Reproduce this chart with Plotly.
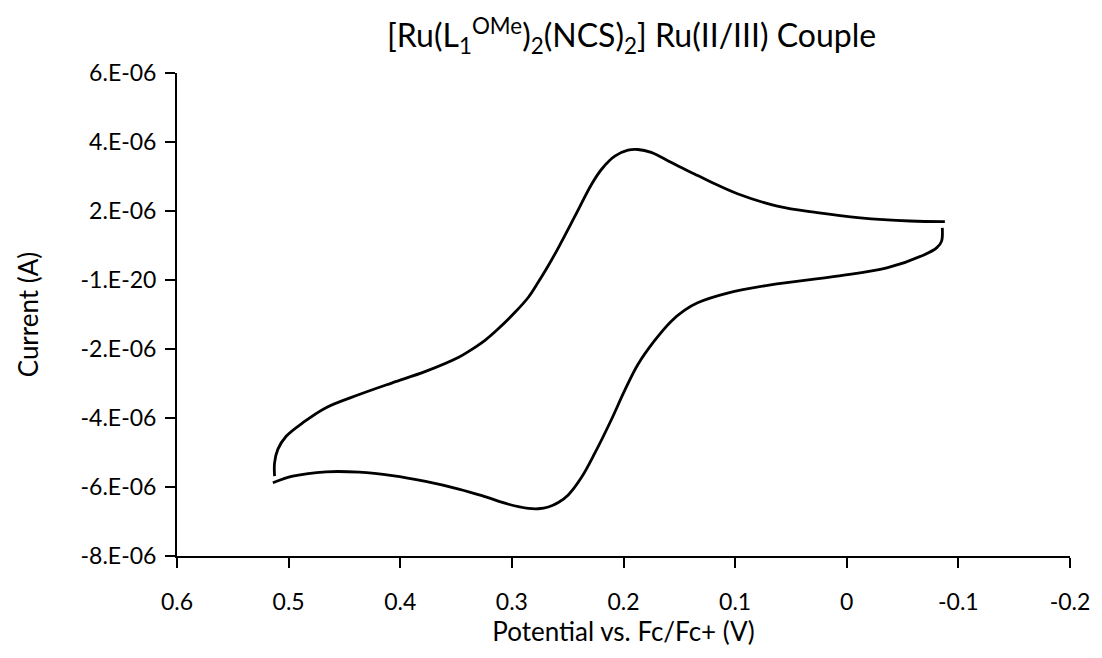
import plotly.graph_objects as go

# Cyclic voltammogram of the Ru(II/III) couple, potential vs. Fc/Fc+
# Upper branch (right end -> left end)
upper_potential = [-0.0879, -0.0567, -0.0121, 0.0265, 0.0622, 0.0979, 0.1217, 0.1336,
                   0.1515, 0.1603, 0.1752, 0.1871, 0.1960, 0.2078, 0.2198, 0.2287,
                   0.2435, 0.2584, 0.2673, 0.2763, 0.2852, 0.2970, 0.3134, 0.3238,
                   0.3387, 0.3476, 0.3773, 0.4071, 0.4368, 0.4665, 0.4874, 0.5022,
                   0.5097, 0.5126, 0.5126]
upper_current_uA = [1.690, 1.710, 1.800, 1.950, 2.140, 2.500, 2.840, 3.030,
                    3.310, 3.460, 3.700, 3.783, 3.762, 3.588, 3.203, 2.768,
                    1.849, 0.933, 0.420, -0.060, -0.500, -0.930, -1.450, -1.740,
                    -2.070, -2.240, -2.650, -2.980, -3.320, -3.700, -4.140, -4.530,
                    -4.910, -5.300, -5.687]

# Lower branch (left end -> right end)
lower_potential = [0.5141, 0.4963, 0.4665, 0.4368, 0.4071, 0.3773, 0.3476, 0.3268,
                   0.3030, 0.2852, 0.2763, 0.2673, 0.2584, 0.2495, 0.2376,
                   0.2257, 0.2109, 0.1989, 0.1871, 0.1722, 0.1574, 0.1455, 0.1336,
                   0.1068, 0.0682, 0.0087, -0.0359, -0.0686, -0.0805, -0.0849, -0.0856]
lower_current_uA = [-5.878, -5.687, -5.560, -5.570, -5.670, -5.840, -6.060, -6.250,
                    -6.500, -6.620, -6.630, -6.580, -6.450, -6.230, -5.720,
                    -5.020, -4.050, -3.200, -2.450, -1.760, -1.200, -0.880, -0.660,
                    -0.380, -0.140, 0.110, 0.350, 0.720, 0.930, 1.120, 1.510]

x_ticks = [0.6, 0.5, 0.4, 0.3, 0.2, 0.1, 0.0, -0.1, -0.2]
x_tick_text = ["0.6", "0.5", "0.4", "0.3", "0.2", "0.1", "0", "-0.1", "-0.2"]
y_ticks = [6e-6, 4e-6, 2e-6, 0.0, -2e-6, -4e-6, -6e-6, -8e-6]
y_tick_text = ["6.E-06", "4.E-06", "2.E-06", "-1.E-20", "-2.E-06", "-4.E-06",
               "-6.E-06", "-8.E-06"]

FONT = "Lato"

fig = go.Figure()
for pot, cur in [(upper_potential, upper_current_uA), (lower_potential, lower_current_uA)]:
    fig.add_trace(go.Scatter(
        x=pot, y=[c * 1e-6 for c in cur], mode="lines",
        line=dict(color="black", width=2.8, shape="spline", smoothing=1.0),
        showlegend=False, hoverinfo="skip",
    ))

axis_common = dict(
    showline=True, linecolor="black", linewidth=2,
    ticks="outside", ticklen=10, tickwidth=2, tickcolor="black",
    showgrid=False, zeroline=False,
    tickfont=dict(family=FONT, size=23, color="black"),
)

fig.update_layout(
    width=1102, height=658,
    paper_bgcolor="white", plot_bgcolor="white",
    margin=dict(l=177, r=28, t=73, b=102),
    title=dict(
        text="[Ru(L<sub>1</sub><sup>OMe</sup>)<sub>2</sub>(NCS)<sub>2</sub>] Ru(II/III) Couple",
        x=0.509, xanchor="center", xref="paper", y=0.945, yanchor="middle",
        font=dict(family=FONT, size=32, color="black"),
    ),
    xaxis=dict(
        range=[0.6, -0.2], tickvals=x_ticks, ticktext=x_tick_text,
        ticklabelstandoff=14,
        title=dict(text="Potential vs. Fc/Fc+ (V)", standoff=6,
                   font=dict(family=FONT, size=26, color="black")),
        **axis_common,
    ),
    yaxis=dict(
        range=[-8e-6, 6e-6], tickvals=y_ticks, ticktext=y_tick_text,
        ticklabelstandoff=4,
        title=dict(text="Current (A)", standoff=34,
                   font=dict(family=FONT, size=26, color="black")),
        **axis_common,
    ),
)

fig.write_html("out.html")
